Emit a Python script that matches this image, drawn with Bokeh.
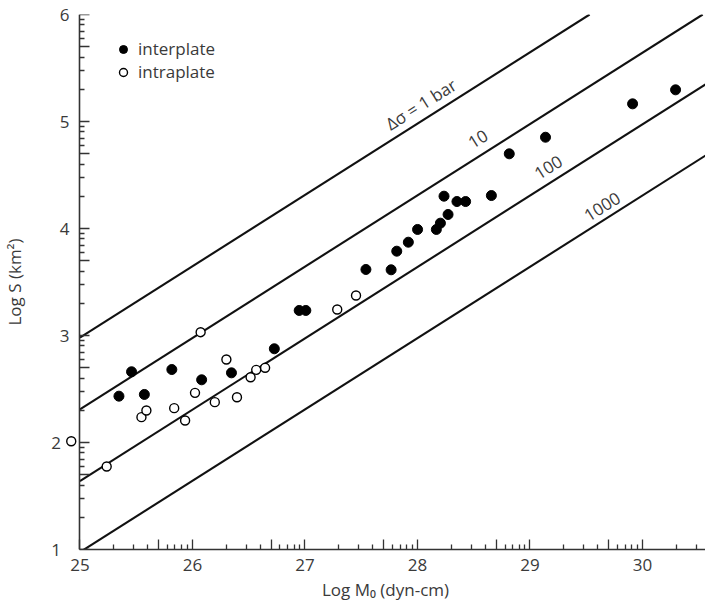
import math
from bokeh.plotting import figure
from bokeh.models import (FixedTicker, CustomJSTickFormatter, Legend, LinearAxis,
                          LegendItem, ColumnDataSource, Range1d)
from bokeh.core.properties import value
from bokeh.embed import file_html
from bokeh.resources import INLINE

# ---------------- data ----------------
inter_x = [25.347, 25.459, 25.573, 25.817, 26.082, 26.347, 26.728, 26.949, 27.008,
           27.542, 27.766, 27.816, 27.919, 28.001, 28.168, 28.204, 28.236, 28.272,
           28.351, 28.428, 28.657, 28.816, 29.138, 29.912, 30.294]
inter_y = [2.433, 2.661, 2.449, 2.682, 2.586, 2.651, 2.876, 3.234, 3.234,
           3.617, 3.614, 3.788, 3.872, 3.991, 3.991, 4.050, 4.302, 4.131,
           4.252, 4.252, 4.308, 4.698, 4.853, 5.165, 5.296]

intra_x = [24.923, 25.238, 25.547, 25.591, 25.838, 25.935, 26.023, 26.073, 26.199,
           26.302, 26.396, 26.517, 26.567, 26.646, 27.287, 27.454]
intra_y = [2.012, 1.776, 2.237, 2.299, 2.321, 2.206, 2.464, 3.031, 2.377,
           2.776, 2.423, 2.610, 2.679, 2.698, 3.243, 3.374]

stress_labels = ["\u0394\u03c3 = 1 bar", "10", "100", "1000"]
stress_logS_at_25 = [2.98, 2.31, 1.64, 0.975]   # log S at log M0 = 25
stress_slope = 2.0 / 3.0

x_major = [25, 26, 27, 28, 29, 30]
y_major = [1, 2, 3, 4, 5, 6]

# ---------------- layout ----------------
XA, X1 = 25.0, 30.56          # axis extent
XF = 24.872                   # frame start (room for the point left of the axis)
Y0, Y1 = 1.0, 6.0
W, H = 705, 607
LEFT, RIGHT, TOP, BOTTOM = 60, 0, 14, 58
FONT = "Open Sans"
TXT = "#3a3a3a"
INK = "#333333"

p = figure(width=W, height=H, output_backend="svg", toolbar_location=None,
           x_range=Range1d(XF, X1), y_range=Range1d(Y0, Y1),
           min_border_left=LEFT, min_border_right=RIGHT,
           min_border_top=TOP, min_border_bottom=BOTTOM)
p.outline_line_color = None
p.grid.visible = False
p.background_fill_color = "white"
p.border_fill_color = "white"

# log-style ticks (decade subdivisions), the "5" tick as long as the major tick
def ticks_for(majors, lo, hi):
    longs, shorts = [], []
    for m in majors:
        if lo <= m <= hi:
            longs.append(float(m))
        for k in range(2, 10):
            t = m + math.log10(k)
            if lo <= t <= hi:
                (longs if k == 5 else shorts).append(t)
    return sorted(longs), sorted(shorts)

fmt = CustomJSTickFormatter(code="return Number.isInteger(tick) ? String(tick) : '';")
# the two lowest y labels sit a little further left in the original
yfmt = CustomJSTickFormatter(code="""
if (!Number.isInteger(tick)) return '';
return tick <= 2 ? String(tick) + '\\u2002' : String(tick);
""")
blank = CustomJSTickFormatter(code="return '';")

xl, xs = ticks_for(x_major, XA, X1)
yl, ys = ticks_for(y_major, Y0, Y1)


def style_lines(ax):
    ax.major_tick_in = 10
    ax.major_tick_out = 0
    ax.minor_tick_in = 5
    ax.minor_tick_out = 0
    ax.axis_line_width = 1.6
    ax.major_tick_line_width = 1.3
    ax.minor_tick_line_width = 1.3
    ax.axis_line_color = INK
    ax.major_tick_line_color = INK
    ax.minor_tick_line_color = INK


def style_text(ax):
    ax.major_label_text_font = FONT
    ax.major_label_text_font_size = "17px"
    ax.major_label_text_color = TXT
    ax.axis_label_text_font = FONT
    ax.axis_label_text_font_size = "17px"
    ax.axis_label_text_font_style = "normal"
    ax.axis_label_text_color = TXT


# x axis
xax = p.xaxis[0]
xax.ticker = FixedTicker(ticks=xl, minor_ticks=xs)
xax.formatter = fmt
xax.bounds = (XA, X1)
style_lines(xax)
style_text(xax)
xax.major_label_standoff = 9
xax.axis_label = "Log M\u2080 (dyn-cm)"
xax.axis_label_standoff = 4

# y axis labels (in the left panel, no line / ticks)
ylab = p.yaxis[0]
ylab.ticker = FixedTicker(ticks=yl, minor_ticks=ys)
ylab.formatter = yfmt
style_text(ylab)
ylab.axis_line_color = None
ylab.major_tick_line_color = None
ylab.minor_tick_line_color = None
ylab.major_tick_in = 0
ylab.major_tick_out = 0
ylab.minor_tick_in = 0
ylab.minor_tick_out = 0
ylab.major_label_standoff = -4
ylab.axis_label = "Log S (km\u00b2)"
ylab.axis_label_standoff = 22

# y axis line and ticks, drawn at log M0 = 25
yline = LinearAxis(ticker=FixedTicker(ticks=yl, minor_ticks=ys), formatter=blank,
                   fixed_location=XA)
style_lines(yline)
yline.major_label_text_font_size = "0px"
p.add_layout(yline, "left")

# stress-drop lines: from the y axis to where they leave the frame
seg_x1 = [min(X1, XA + (Y1 - c) / stress_slope) for c in stress_logS_at_25]
seg_y1 = [c + stress_slope * (x - XA) for c, x in zip(stress_logS_at_25, seg_x1)]
p.segment(x0=[XA] * len(stress_logS_at_25), y0=stress_logS_at_25,
          x1=seg_x1, y1=seg_y1, line_color="#111111", line_width=2.1)

# line labels, rotated along the lines
fw = W - LEFT - RIGHT
fh = H - TOP - BOTTOM
ang = math.atan(stress_slope * (fh / (Y1 - Y0)) / (fw / (X1 - XF)))
lab_x = [28.10, 28.61, 29.23, 29.70]
lab_gap = [3, 9, 8, 6]        # perpendicular distance above the line, px
lab_y = [c + stress_slope * (x - XA) for c, x in zip(stress_logS_at_25, lab_x)]
p.text(x=lab_x, y=lab_y, text=stress_labels, angle=ang,
       text_align="center", text_baseline="bottom",
       x_offset=[-g * math.sin(ang) for g in lab_gap],
       y_offset=[-g * math.cos(ang) for g in lab_gap],
       text_font=value(FONT), text_font_size="17px", text_color=TXT)

# points
src_inter = ColumnDataSource(dict(x=inter_x, y=inter_y))
src_intra = ColumnDataSource(dict(x=intra_x, y=intra_y))
r_inter = p.scatter("x", "y", source=src_inter, size=10, marker="circle",
                    fill_color="black", line_color="black")
r_intra = p.scatter("x", "y", source=src_intra, size=9, marker="circle",
                    fill_color="white", line_color="black", line_width=1.4)

legend = Legend(items=[LegendItem(label="interplate", renderers=[r_inter]),
                       LegendItem(label="intraplate", renderers=[r_intra])],
                location=(48, 466), padding=0, margin=0, spacing=0,
                glyph_width=20, glyph_height=20, label_height=20,
                label_standoff=5, border_line_color=None,
                background_fill_alpha=0,
                label_text_font=FONT, label_text_font_size="17px",
                label_text_color=TXT)
p.add_layout(legend)

open("out.html", "w").write(file_html(p, INLINE))
